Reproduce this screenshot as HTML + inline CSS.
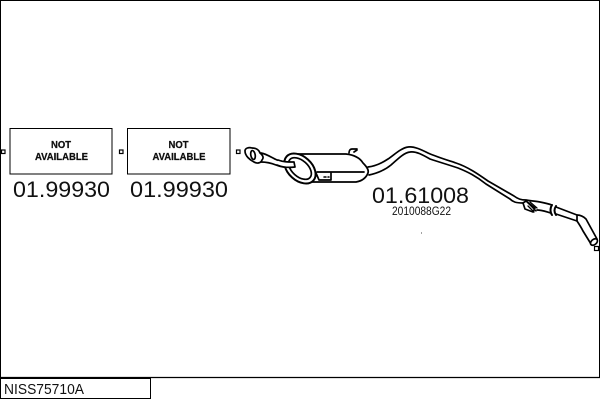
<!DOCTYPE html>
<html>
<head>
<meta charset="utf-8">
<style>
html,body{margin:0;padding:0;background:#fff;width:600px;height:400px;overflow:hidden}
svg{display:block}
text{font-family:"Liberation Sans",Arial,sans-serif;fill:#111}
</style>
</head>
<body>
<svg width="600" height="400" viewBox="0 0 600 400" xmlns="http://www.w3.org/2000/svg">
<rect width="600" height="400" fill="#fff"/>
<!-- frame -->
<path d="M0.5 377V0.5H599.5V377" fill="none" stroke="#000"/>
<path d="M0 377.5H600" stroke="#000" stroke-width="1.2"/>
<rect x="0.5" y="378.5" width="150" height="20" fill="#fff" stroke="#000"/>
<text x="4" y="394" font-size="14.5" textLength="80" lengthAdjust="spacingAndGlyphs">NISS75710A</text>

<!-- boxes -->
<rect x="10" y="128.5" width="102" height="45.5" fill="#fff" stroke="#000" stroke-width="1"/>
<rect x="127.5" y="128.5" width="102.5" height="45.5" fill="#fff" stroke="#000" stroke-width="1"/>
<g font-size="10" font-weight="bold" text-anchor="middle" stroke="#000" stroke-width="0.25">
<text x="61" y="148" textLength="20" lengthAdjust="spacingAndGlyphs">NOT</text>
<text x="61.5" y="160" textLength="53" lengthAdjust="spacingAndGlyphs">AVAILABLE</text>
<text x="178.5" y="148" textLength="20" lengthAdjust="spacingAndGlyphs">NOT</text>
<text x="179" y="160" textLength="53" lengthAdjust="spacingAndGlyphs">AVAILABLE</text>
</g>
<g font-size="22">
<text x="13" y="197" textLength="97" lengthAdjust="spacingAndGlyphs">01.99930</text>
<text x="130" y="197" textLength="98" lengthAdjust="spacingAndGlyphs">01.99930</text>
<text x="372" y="203" textLength="97" lengthAdjust="spacingAndGlyphs">01.61008</text>
</g>
<text x="392" y="215" font-size="11.5" textLength="59" lengthAdjust="spacingAndGlyphs">2010088G22</text>
<rect x="421" y="232.5" width="1" height="1" fill="#444"/>

<!-- small squares -->
<g fill="#fff" stroke="#000" stroke-width="1.2">
<rect x="1.5" y="150" width="3.5" height="3.5"/>
<rect x="119.5" y="150" width="3.5" height="3.5"/>
<rect x="236.5" y="150" width="3.5" height="3.5"/>
<rect x="594.5" y="246.5" width="4" height="4"/>
</g>

<!-- exhaust drawing -->
<g fill="none" stroke="#000" stroke-width="1.7" stroke-linecap="round" stroke-linejoin="round">
<!-- inlet pipe -->
<path d="M261 153C267 154 272 158 277 160C282 162 288 162 294 162L295 167C288 168 281 167 276 165C271 163 266 162 261 162Z" fill="#fff"/>
<!-- flange -->
<path d="M245 151C245 148 249 147 252 148C256 148 259 150 260 153C263 155 264 158 262 160C261 163 257 164 254 162C250 160 245 156 245 151Z" fill="#fff"/>
<ellipse cx="253" cy="155" rx="2.2" ry="4.5" transform="rotate(-10 253 155)"/>
<!-- muffler body -->
<path d="M293 154H346C355 155 360 158 363 163C367 167 369 170 368 173C366 178 362 181 356 182H306" fill="#fff"/>
<!-- front end-cap -->
<ellipse cx="300" cy="168.5" rx="18" ry="12" transform="rotate(42 300 168.5)" fill="#fff" stroke-width="2"/>
<ellipse cx="300" cy="168.5" rx="13.5" ry="8" transform="rotate(42 300 168.5)" fill="#fff"/>
<path d="M278 160C283 162 288 162 294 162L295 167C288 168 282 167 277 165Z" fill="#fff" stroke="none"/>
<path d="M278 160C283 162 288 162 294 162L295 167C288 168 282 167 277 165" />
<!-- seam and bracket -->
<path d="M317 172H364"/>
<path d="M316 173L319 180H331V173" fill="#fff"/>
<path d="M324 177H326M328 177H329" stroke-width="1.5"/>
<!-- hanger -->
<path d="M349 153C349 151 350 149 352 149H357M354 152L357 150"/>
<!-- long pipe -->
<path d="M368 167C376 166 382 163 388 159C394 155 401 148 408 147C414 146 422 150 428 153C437 157 447 160 456 163C468 167 478 174 488 181L514 196C518 199 521 200 526 200C531 201 535 201 540 202C545 203 549 204 552 205"/>
<path d="M369 175C378 173 385 170 391 165C397 160 403 153 410 152C416 151 423 155 430 159C439 162 449 165 458 168C468 172 476 176 486 184L510 199C513 202 516 203 523 203"/>
<!-- rear clamp -->
<path d="M523 203L526 201L535 208L533 212L525 209Z" fill="#fff"/>
<path d="M527 202L536 211M530 202L537 208M528 206L534 212" stroke-width="1.3"/>
<!-- rear section -->
<path d="M537 210C542 210 547 212 551 213"/>
<path d="M552 205C550 208 550 212 552 215" stroke-width="2"/>
<path d="M556 206C554 209 554 212 556 215" stroke-width="2"/>
<path d="M556 207L577 215L577 221L556 214"/>
<path d="M577 215C581 215 584 217 586 219L597 239M577 221C579 224 581 227 583 231L591 244"/>
<ellipse cx="594" cy="242" rx="2.6" ry="4" transform="rotate(50 594 242)" fill="#fff"/>
</g>
</svg>
</body>
</html>
